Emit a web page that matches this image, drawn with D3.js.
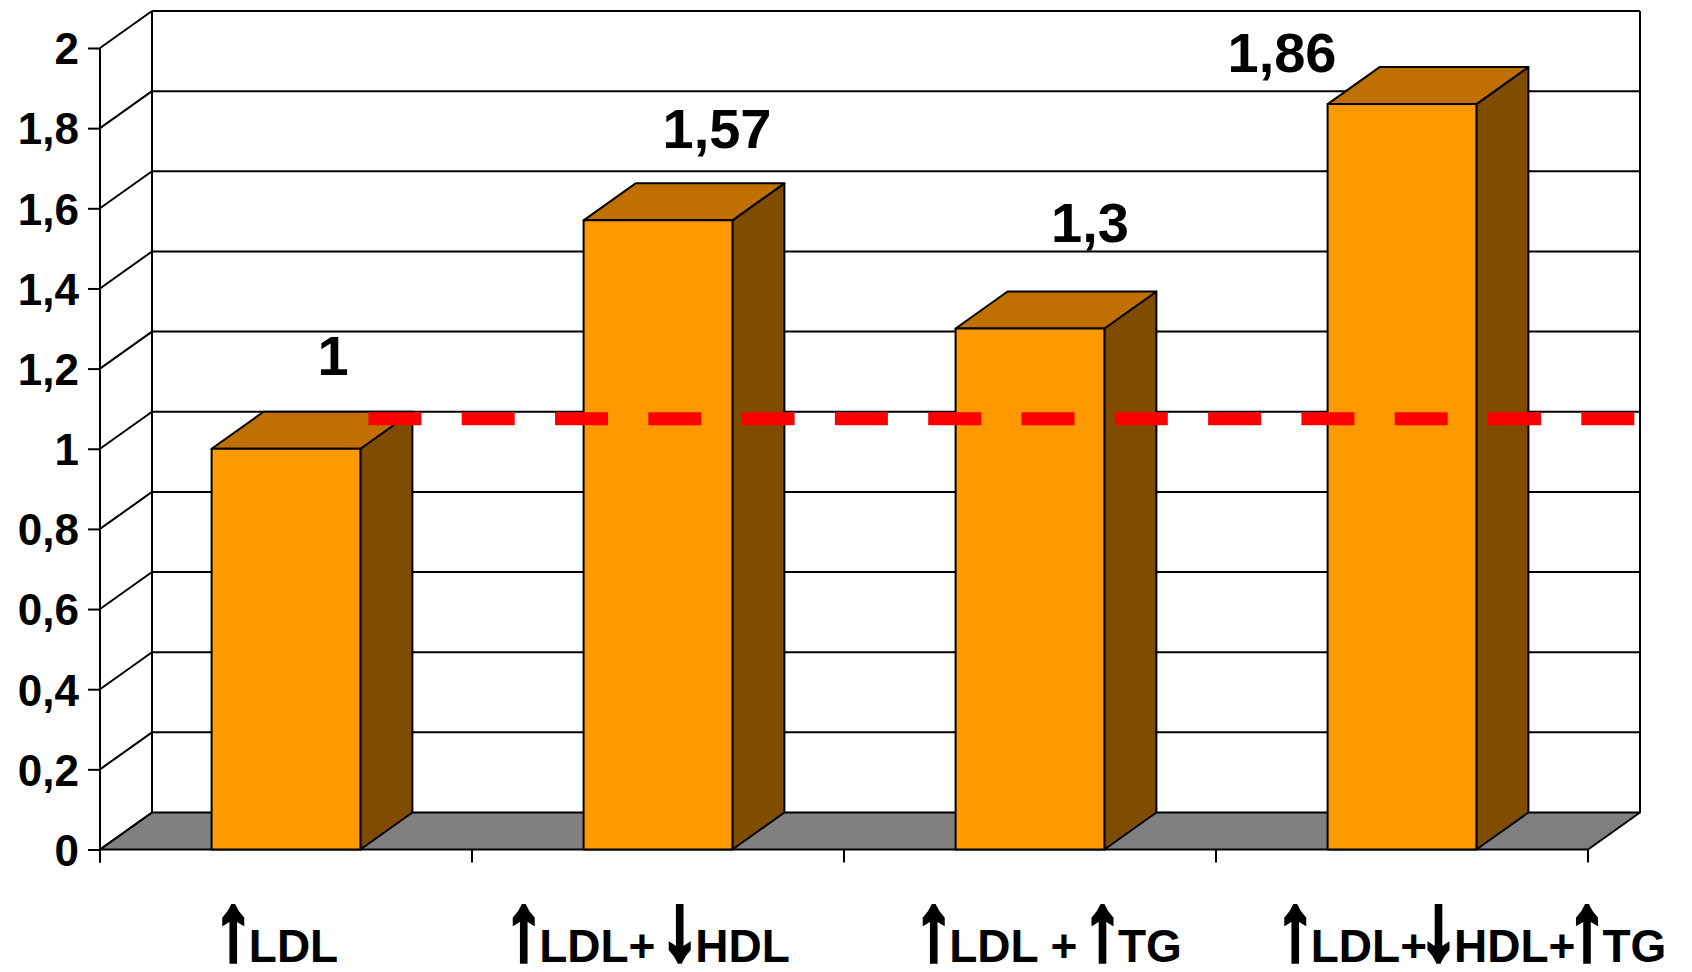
<!DOCTYPE html>
<html><head><meta charset="utf-8">
<script src="https://cdn.jsdelivr.net/npm/d3@7"></script>
<style>html,body{margin:0;padding:0;background:#fff;} svg{display:block}</style>
</head><body>
<svg id="chart" width="1692" height="972"></svg>
<script>
// ---- data ----
const categories = ["↑LDL", "↑LDL+ ↓HDL", "↑LDL + ↑TG", "↑LDL+↓HDL+↑TG"];
const values = [1, 1.57, 1.3, 1.86];
const valueLabels = ["1", "1,57", "1,3", "1,86"];
const yTicks = [0, 0.2, 0.4, 0.6, 0.8, 1, 1.2, 1.4, 1.6, 1.8, 2];
const yTickLabels = ["0", "0,2", "0,4", "0,6", "0,8", "1", "1,2", "1,4", "1,6", "1,8", "2"];
const referenceValue = 1.075;

// ---- layout ----
const FONT = '"Liberation Sans", Arial, sans-serif';
const left = 100, right = 1588, depthX = 52, depthY = 37;
const valueLabelOffsets = [[47, -74], [59, -72], [60, -87], [-120, -32]];
const catLabelShift = [-6, -7, 22, 73];
const colors = {front: "#FF9900", top: "#C07000", side: "#804C00", floor: "#808080", ref: "#FF0000"};

const svg = d3.select("#chart");
const y = d3.scaleLinear().domain([0, 2]).range([849.5, 48]);
const x = d3.scaleBand().domain(categories).range([left, right]).paddingInner(0.6).paddingOuter(0.3);
const step = x.step();
const y0 = y(0);

// back wall
svg.append("rect").attr("x", left + depthX).attr("y", y(2) - depthY)
  .attr("width", right - left).attr("height", y0 - y(2)).attr("fill", "#fff");
// floor
svg.append("polygon")
  .attr("points", [[left, y0], [right, y0], [right + depthX, y0 - depthY], [left + depthX, y0 - depthY]].map(p => p.join(",")).join(" "))
  .attr("fill", colors.floor).attr("stroke", "#000").attr("stroke-width", 2).attr("stroke-linejoin", "round");

// gridlines on back wall + side diagonals
const grid = svg.append("g").attr("stroke", "#000").attr("stroke-width", 2).attr("fill", "none");
grid.selectAll("line.g").data(yTicks.filter(v => v > 0)).join("line")
  .attr("x1", left + depthX).attr("x2", right + depthX)
  .attr("y1", d => y(d) - depthY).attr("y2", d => y(d) - depthY);
grid.selectAll("line.d").data(yTicks).join("line")
  .attr("x1", left).attr("x2", left + depthX)
  .attr("y1", d => y(d)).attr("y2", d => y(d) - depthY);
grid.append("line").attr("x1", left + depthX).attr("x2", left + depthX).attr("y1", y(2) - depthY).attr("y2", y0 - depthY);
grid.append("line").attr("x1", right + depthX).attr("x2", right + depthX).attr("y1", y(2) - depthY).attr("y2", y0 - depthY);

// y axis
const yAxis = d3.axisLeft(y).tickValues(yTicks).tickSize(12).tickFormat((d, i) => yTickLabels[i]);
const yg = svg.append("g").attr("transform", `translate(${left},0)`).call(yAxis);
yg.select(".domain").remove();
yg.selectAll(".tick line").attr("stroke", "#000").attr("stroke-width", 2);
yg.selectAll(".tick text").attr("font-family", FONT).attr("font-weight", "bold").attr("font-size", 44)
  .attr("fill", "#000").attr("x", -21).attr("dy", "0.36em");
svg.append("line").attr("x1", left).attr("x2", left).attr("y1", y(2)).attr("y2", y0 + 13)
  .attr("stroke", "#000").attr("stroke-width", 2);

// x ticks at band boundaries
svg.append("g").selectAll("line").data(d3.range(categories.length + 1)).join("line")
  .attr("x1", i => left + step * i).attr("x2", i => left + step * i)
  .attr("y1", y0).attr("y2", y0 + 13).attr("stroke", "#000").attr("stroke-width", 2);

// bars
const bars = svg.append("g").attr("stroke", "#000").attr("stroke-width", 2).attr("stroke-linejoin", "round");
categories.forEach((c, i) => {
  const bx0 = x(c), bx1 = x(c) + x.bandwidth(), by = y(values[i]);
  const g = bars.append("g");
  g.append("polygon").attr("fill", colors.side)
    .attr("points", [[bx1, by], [bx1 + depthX, by - depthY], [bx1 + depthX, y0 - depthY], [bx1, y0]].map(p => p.join(",")).join(" "));
  g.append("polygon").attr("fill", colors.top)
    .attr("points", [[bx0, by], [bx0 + depthX, by - depthY], [bx1 + depthX, by - depthY], [bx1, by]].map(p => p.join(",")).join(" "));
  g.append("rect").attr("fill", colors.front).attr("x", bx0).attr("y", by).attr("width", bx1 - bx0).attr("height", y0 - by);
});

// reference dashed line
svg.append("line").attr("x1", x(categories[0]) + x.bandwidth() + 8).attr("x2", right + depthX - 2)
  .attr("y1", y(referenceValue)).attr("y2", y(referenceValue))
  .attr("stroke", colors.ref).attr("stroke-width", 13).attr("stroke-dasharray", "53,40.3");

// value labels
svg.append("g").selectAll("text").data(values).join("text")
  .attr("x", (d, i) => x(categories[i]) + x.bandwidth() / 2 + valueLabelOffsets[i][0])
  .attr("y", (d, i) => y(d) + valueLabelOffsets[i][1])
  .attr("text-anchor", "middle").attr("font-family", FONT).attr("font-weight", "bold").attr("font-size", 56)
  .text((d, i) => valueLabels[i]);

// category labels with tall, heavy arrows
const canvas = document.createElement("canvas");
const ctx = canvas.getContext("2d");
function measure(str, size) {
  ctx.font = `bold ${size}px ${FONT}`;
  return ctx.measureText(str);
}
const labelSize = 46, baseline = 962, arrowW = 23, arrowH = 60, arrowGap = 4, arrowStroke = 5;
categories.forEach((c, i) => {
  const segs = [];
  let buf = "";
  for (const ch of c) {
    if (ch === "↑" || ch === "↓") { if (buf) segs.push({t: buf}); buf = ""; segs.push({a: ch}); }
    else buf += ch;
  }
  if (buf) segs.push({t: buf});
  segs.forEach(s => { s.w = s.a ? arrowW + arrowGap : measure(s.t, labelSize).width; });
  const total = d3.sum(segs, s => s.w);
  let cx = x(c) + x.bandwidth() / 2 + catLabelShift[i] - total / 2;
  const g = svg.append("g").attr("class", "cat-label");
  segs.forEach(s => {
    if (s.a) {
      const m = measure(s.a, 100);
      const iw = m.actualBoundingBoxLeft + m.actualBoundingBoxRight;
      const ih = m.actualBoundingBoxAscent + m.actualBoundingBoxDescent;
      const h = arrowStroke / 2;
      g.append("text").text(s.a)
        .attr("font-family", FONT).attr("font-weight", "bold").attr("font-size", 100)
        .attr("fill", "#000").attr("stroke", "#000").attr("stroke-width", arrowStroke)
        .attr("vector-effect", "non-scaling-stroke").attr("stroke-linejoin", "miter")
        .attr("x", m.actualBoundingBoxLeft).attr("y", m.actualBoundingBoxAscent)
        .attr("transform", `translate(${cx + h},${baseline - arrowH + 1 + h}) scale(${(arrowW - 2 * h) / iw},${(arrowH - 2 * h) / ih})`);
    } else {
      g.append("text").text(s.t).attr("xml:space", "preserve").style("white-space", "pre")
        .attr("font-family", FONT).attr("font-weight", "bold").attr("font-size", labelSize)
        .attr("x", cx).attr("y", baseline);
    }
    cx += s.w;
  });
});
</script>
</body></html>
